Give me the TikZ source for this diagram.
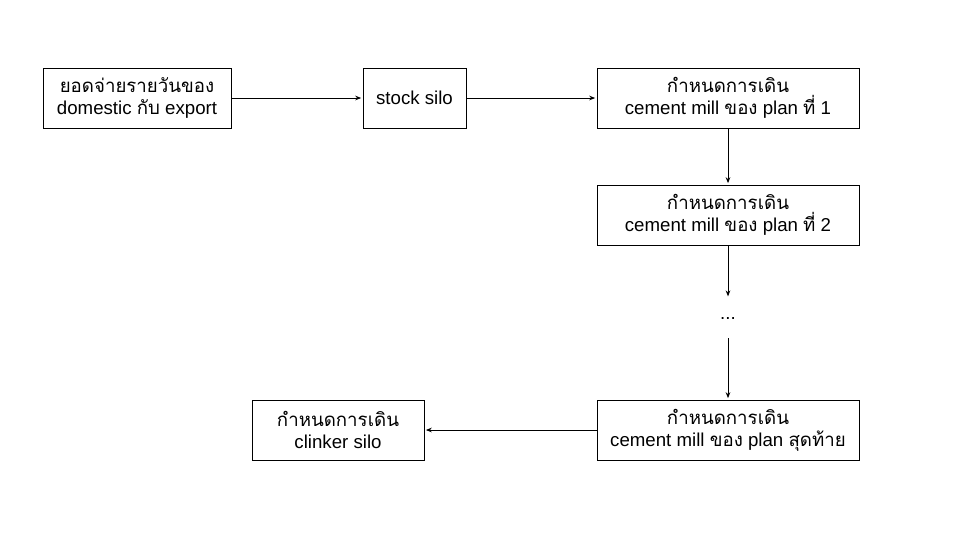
\documentclass[tikz,border=0pt]{standalone}
\usepackage{fontspec}
\setmainfont{Liberation Sans}
\newfontfamily\thaifont[Script=Thai]{Loma}
\newcommand{\thaitxt}[1]{{\thaifont #1}}
\usetikzlibrary{arrows.meta}
\tikzset{
  flowbox/.style={draw, line width=0.75pt, align=center, inner sep=0pt,
    minimum height=45pt, font=\fontsize{14}{16.5}\selectfont},
  flowarrow/.style={line width=0.75pt, -{Stealth[length=4.5pt,width=3.5pt]}, shorten >=1pt}
}
\begin{document}
\begin{tikzpicture}[x=0.75pt,y=-0.75pt]
  \useasboundingbox (0,0) rectangle (960,540);
  % top row
  \node[flowbox, minimum width=141pt] (yod) at (137,98)
    {\thaitxt{ยอดจ่ายรายวันของ}\\domestic \thaitxt{กับ} export};
  \node[flowbox, minimum width=77.25pt] (stock) at (414.5,98) {stock silo};
  \node[flowbox, minimum width=196.5pt] (plan1) at (728,98)
    {\thaitxt{กำหนดการเดิน}\\cement mill \thaitxt{ของ} plan \thaitxt{ที่} 1};
  % right column
  \node[flowbox, minimum width=196.5pt] (plan2) at (728,215)
    {\thaitxt{กำหนดการเดิน}\\cement mill \thaitxt{ของ} plan \thaitxt{ที่} 2};
  \node[inner sep=0pt, minimum height=30pt, font=\fontsize{14}{16.5}\selectfont] (dots) at (728,318) {...};
  \node[flowbox, minimum width=196.5pt] (planlast) at (728,430)
    {\thaitxt{กำหนดการเดิน}\\cement mill \thaitxt{ของ} plan \thaitxt{สุดท้าย}};
  % bottom left
  \node[flowbox, minimum width=129pt] (clinker) at (338,430)
    {\thaitxt{กำหนดการเดิน}\\clinker silo};

  \draw[flowarrow] (yod) -- (stock);
  \draw[flowarrow] (stock) -- (plan1);
  \draw[flowarrow] (plan1) -- (plan2);
  \draw[flowarrow] (plan2) -- (dots);
  \draw[flowarrow] (dots) -- (planlast);
  \draw[flowarrow] (planlast) -- (clinker);
\end{tikzpicture}
\end{document}
